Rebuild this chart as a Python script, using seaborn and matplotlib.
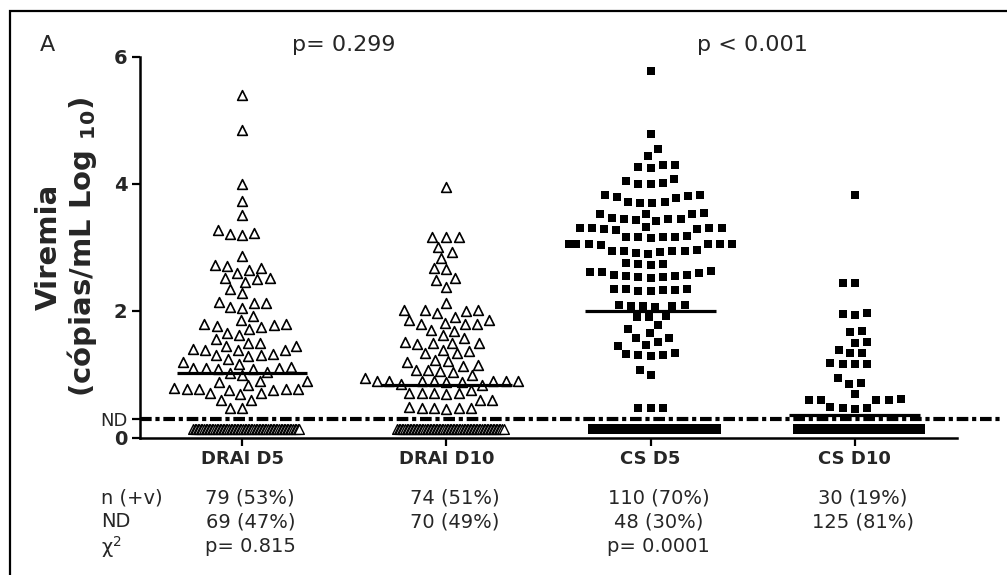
import numpy as np
import pandas as pd
import matplotlib
matplotlib.use("Agg")
import matplotlib.pyplot as plt
import seaborn as sns
from matplotlib.transforms import blended_transform_factory
from matplotlib.patches import Rectangle

# ---------------- data ----------------
categories = ["DRAI D5", "DRAI D10", "CS D5", "CS D10"]

drai_d5 = [5.40, 4.84, 3.99, 3.73, 3.51, 3.27, 3.21, 3.19, 3.22,
           2.87, 2.72, 2.71, 2.68, 2.65, 2.60, 2.52, 2.51, 2.50, 2.46, 2.34, 2.28,
           2.14, 2.12, 2.12, 2.06, 2.05, 1.92, 1.86, 1.79, 1.79, 1.78, 1.76, 1.75,
           1.72, 1.65, 1.62, 1.55,
           1.50, 1.49, 1.45, 1.44, 1.40, 1.39, 1.39, 1.38, 1.32, 1.31, 1.30, 1.29,
           1.25, 1.20, 1.17,
           1.10, 1.10, 1.09, 1.10, 1.11, 1.09, 1.04, 1.03, 0.99,
           0.89, 0.89, 0.88, 0.83, 0.77, 0.77, 0.77, 0.76, 0.76, 0.77, 0.78,
           0.70, 0.70, 0.69, 0.60, 0.60, 0.47, 0.47]

drai_d10 = [3.95, 3.17, 3.17, 3.16, 3.01, 2.93, 2.83, 2.67, 2.66, 2.51, 2.48, 2.38,
            2.12, 2.01, 2.01, 2.02, 2.00, 1.96, 1.91, 1.86, 1.85, 1.80, 1.80, 1.79,
            1.81, 1.70, 1.69, 1.62, 1.57,
            1.51, 1.49, 1.48, 1.49, 1.50, 1.38, 1.37, 1.34, 1.33, 1.23, 1.20, 1.21,
            1.15, 1.14,
            1.07, 1.07, 1.06, 1.04, 0.99, 0.94,
            0.89, 0.89, 0.88, 0.89, 0.90, 0.89, 0.88, 0.89, 0.90, 0.85, 0.84, 0.75,
            0.70, 0.70, 0.71, 0.69, 0.70, 0.60, 0.60,
            0.47, 0.47, 0.46, 0.47, 0.48, 0.47]

cs_d5 = [5.77, 4.78, 4.54, 4.43, 4.29, 4.27, 4.25, 4.30, 4.08, 4.02, 3.99, 4.00, 4.04,
         3.83, 3.83, 3.79, 3.80, 3.78, 3.71, 3.70, 3.72, 3.69,
         3.53, 3.53, 3.52, 3.54, 3.44, 3.45, 3.43, 3.46, 3.44, 3.42,
         3.30, 3.31, 3.29, 3.32, 3.28, 3.30, 3.31, 3.29,
         3.06, 3.05, 3.06, 3.05, 3.05, 3.04, 3.06,
         3.17, 3.16, 3.18, 3.15, 3.17, 3.16,
         2.94, 2.95, 2.93, 2.94, 2.96, 2.94, 2.90, 2.91,
         2.73, 2.74, 2.72, 2.75, 2.61, 2.62, 2.60, 2.61,
         2.55, 2.54, 2.56, 2.53, 2.55, 2.57, 2.52,
         2.33, 2.34, 2.32, 2.31, 2.35, 2.33, 2.34,
         2.08, 2.09, 2.07, 2.06, 2.08, 2.10,
         1.91, 1.92, 1.90, 1.78, 1.71, 1.65, 1.57, 1.58, 1.51, 1.45, 1.46,
         1.31, 1.32, 1.30, 1.33, 1.29, 1.07, 0.99, 0.47, 0.47, 0.47]

cs_d10 = [3.83, 2.44, 2.44, 1.95, 1.96, 1.94, 1.67, 1.68, 1.50, 1.51, 1.39, 1.33,
          1.34, 1.17, 1.17, 1.18, 1.16, 0.94, 0.85, 0.86, 0.69, 0.60, 0.60, 0.61,
          0.60, 0.59, 0.47, 0.47, 0.48, 0.46]

nd_counts = [69, 70, 48, 125]      # not-detected samples per group
nd_plot_value = 0.14               # where ND samples are drawn
nd_level = 0.3                     # detection limit line
medians = [1.02, 0.83, 2.00, 0.36]

top_pvalues = ["p= 0.299", "p < 0.001"]
npos_labels = ["79 (53%)", "74 (51%)", "110 (70%)", "30 (19%)"]
nd_labels = ["69 (47%)", "70 (49%)", "48 (30%)", "125 (81%)"]
chi_labels = ["p= 0.815", "", "p= 0.0001", ""]
row_labels = ["n (+v)", "ND", "χ$^2$"]
yticks = [0, 2, 4, 6]

# ---------------- style ----------------
sns.set_theme(style="ticks")
plt.rcParams["font.family"] = ["DejaVu Sans"]
plt.rcParams["mathtext.fontset"] = "dejavusans"

fig = plt.figure(figsize=(10.07, 5.75), dpi=100)
ax = fig.add_axes([0.139, 0.2383, 0.8113, 0.6631])

positives = [drai_d5, drai_d10, cs_d5, cs_d10]
pos_df = pd.DataFrame({
    "group": np.repeat(categories, [len(v) for v in positives]),
    "value": np.concatenate(positives),
})
is_drai_pos = pos_df["group"].str.startswith("DRAI")

# positive samples (swarm: packing spacing a bit larger than the marker)
n0 = len(ax.collections)
sns.swarmplot(data=pos_df[is_drai_pos], x="group", y="value", order=categories,
              marker="^", size=7.3, color="white", edgecolor="black",
              linewidth=1.2, ax=ax, zorder=3)
tri_colls = ax.collections[n0:]
n1 = len(ax.collections)
sns.swarmplot(data=pos_df[~is_drai_pos], x="group", y="value", order=categories,
              marker="s", size=8.4, color="black", edgecolor="black",
              linewidth=0, ax=ax, zorder=3)
sq_colls = ax.collections[n1:]

# ND samples: dense evenly packed band at the ND level
nd_frames = []
for i, (cat, n) in enumerate(zip(categories, nd_counts)):
    half = 0.26 if cat.startswith("DRAI") else 0.30
    nd_frames.append(pd.DataFrame({
        "pos": i + 0.02 + np.linspace(-half, half, n),
        "value": nd_plot_value,
        "kind": "DRAI" if cat.startswith("DRAI") else "CS",
    }))
nd_df = pd.concat(nd_frames, ignore_index=True)
sns.scatterplot(data=nd_df[nd_df.kind == "DRAI"], x="pos", y="value",
                marker="^", s=49, facecolor="white", edgecolor="black",
                linewidth=1.0, ax=ax, zorder=3, legend=False)
sns.scatterplot(data=nd_df[nd_df.kind == "CS"], x="pos", y="value",
                marker="s", s=42, color="black", edgecolor="black",
                linewidth=0, ax=ax, zorder=3, legend=False)

# median lines
for i, m in enumerate(medians):
    ax.hlines(m, i - 0.32, i + 0.32, color="black", lw=2.3, zorder=5)

# detection limit line
ax.axhline(nd_level, xmin=0, xmax=1.053, color="black", lw=3.0,
           ls=(0, (2.8, 0.9, 1.0, 0.9)), clip_on=False, zorder=6)

ax.set_xlim(-0.5, 3.5)
ax.set_ylim(0, 6)
ax.set_xlabel("")

ax.set_yticks([0, nd_level] + yticks[1:])
ax.set_yticklabels([str(yticks[0]), "ND"] + [str(t) for t in yticks[1:]])
for lab in ax.get_yticklabels():
    if lab.get_text() == "ND":
        lab.set_fontweight("normal")
        lab.set_fontsize(13)
    else:
        lab.set_fontweight("bold")
        lab.set_fontsize(14)
ax.set_xticks(range(len(categories)))
ax.set_xticklabels(categories, fontweight="bold", fontsize=13)
ax.tick_params(axis="both", length=6, width=1.6, color="black", pad=3)
sns.despine(ax=ax)
for s in ["left", "bottom"]:
    ax.spines[s].set_linewidth(1.8)
    ax.spines[s].set_color("black")

ax.set_ylabel("Viremia\n(cópias/mL Log $_{\\mathbf{10}}$)", fontsize=21,
              fontweight="bold", linespacing=1.1)
ax.yaxis.set_label_coords(-0.05, 0.5)

trans = blended_transform_factory(ax.transData, ax.transAxes)
ax.text(0.5, 1.03, top_pvalues[0], transform=trans, ha="center", va="center",
        fontsize=16)
ax.text(2.5, 1.03, top_pvalues[1], transform=trans, ha="center", va="center",
        fontsize=16)
fig.text(47 / 1007, 1 - 45 / 575, "A", fontsize=16, ha="center", va="center")

# table below the axis
row_y = [-0.157, -0.220, -0.285]
for lab, y in zip(row_labels, row_y):
    ax.text(-0.69, y, lab, transform=trans, ha="left", va="center", fontsize=14)
for i in range(len(categories)):
    ax.text(i + 0.04, row_y[0], npos_labels[i], transform=trans, ha="center",
            va="center", fontsize=14)
    ax.text(i + 0.04, row_y[1], nd_labels[i], transform=trans, ha="center",
            va="center", fontsize=14)
    if chi_labels[i]:
        ax.text(i + 0.04, row_y[2], chi_labels[i], transform=trans, ha="center",
                va="center", fontsize=14)

# outer frame
fig.add_artist(Rectangle((10 / 1007, -0.05), 1.2, 1.05 - 11 / 575,
                         transform=fig.transFigure, fill=False,
                         edgecolor="black", lw=1.6))

# freeze the swarm layout, then draw the markers at their displayed size
fig.canvas.draw()
for colls, disp in ((tri_colls, 7.0), (sq_colls, 6.4)):
    for c in colls:
        if "draw" in c.__dict__:
            del c.__dict__["draw"]
        c.set_sizes([disp ** 2])

fig.savefig("out.png", dpi=100)
